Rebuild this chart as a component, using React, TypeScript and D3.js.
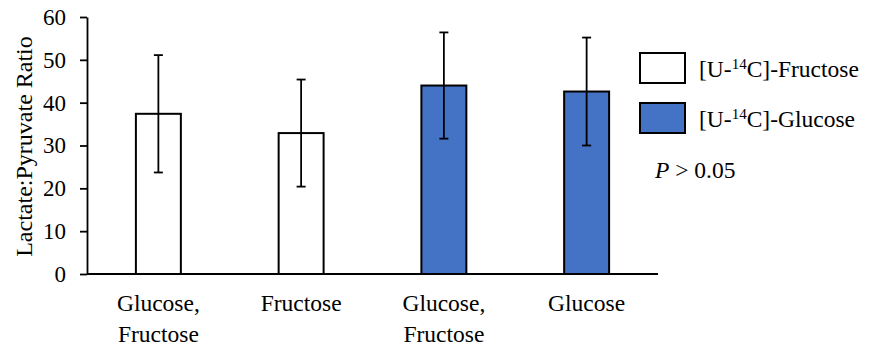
import React, { useEffect, useRef } from "react";
import * as d3 from "d3";

// chart data
const categories = ["Glucose,|Fructose", "Fructose", "Glucose,|Fructose", "Glucose"];
const means = [37.4, 32.9, 44.0, 42.6];
const errors = [13.7, 12.5, 12.4, 12.6];
const tracer = ["fructose", "fructose", "glucose", "glucose"];
const yTicks = [0, 10, 20, 30, 40, 50, 60];
const legendItems = [
  { key: "fructose", label: "-Fructose" },
  { key: "glucose", label: "-Glucose" },
];

const W = 870;
const H = 346;
const FONT = "Liberation Serif";
const BLUE = "#4472C4";

function App() {
  const ref = useRef<SVGSVGElement>(null);

  useEffect(() => {
    const svg = d3.select(ref.current);
    svg.selectAll("*").remove();

    const left = 87, right = 658, top = 17, bottom = 274;

    const x = d3.scaleBand<number>()
      .domain(d3.range(categories.length))
      .range([left, right])
      .paddingInner(0.685)
      .paddingOuter(0.3425);
    const y = d3.scaleLinear().domain([0, 60]).range([bottom, top]);

    const fill = (t: string) => (t === "glucose" ? BLUE : "#fff");

    // y axis
    const yAxis = svg.append("g")
      .attr("transform", `translate(${left},0)`)
      .call(d3.axisLeft(y).tickValues(yTicks).tickSize(7).tickPadding(14).tickSizeOuter(0));
    yAxis.attr("font-family", null);
    yAxis.select(".domain").attr("stroke", "#000").attr("stroke-width", 1.8);
    yAxis.selectAll(".tick line").attr("stroke", "#000").attr("stroke-width", 1.8);
    yAxis.selectAll("text")
      .style("font-family", FONT)
      .style("font-size", "23px")
      .attr("fill", "#000");

    // bars
    svg.append("g").selectAll("rect")
      .data(means)
      .join("rect")
      .attr("x", (d, i) => x(i)!)
      .attr("y", (d) => y(d))
      .attr("width", x.bandwidth())
      .attr("height", (d) => y(0) - y(d))
      .attr("fill", (d, i) => fill(tracer[i]))
      .attr("stroke", "#000")
      .attr("stroke-width", 2);

    // x axis baseline
    svg.append("line")
      .attr("x1", left).attr("x2", right)
      .attr("y1", y(0)).attr("y2", y(0))
      .attr("stroke", "#000")
      .attr("stroke-width", 1.8);

    // error bars
    const eb = svg.append("g").attr("stroke", "#000").attr("stroke-width", 1.8);
    means.forEach((m, i) => {
      const cx = x(i)! + x.bandwidth() / 2;
      eb.append("line").attr("x1", cx).attr("x2", cx).attr("y1", y(m + errors[i])).attr("y2", y(m - errors[i]));
      eb.append("line").attr("x1", cx - 4.5).attr("x2", cx + 4.5).attr("y1", y(m + errors[i])).attr("y2", y(m + errors[i]));
      eb.append("line").attr("x1", cx - 4.5).attr("x2", cx + 4.5).attr("y1", y(m - errors[i])).attr("y2", y(m - errors[i]));
    });

    // category labels
    categories.forEach((c, i) => {
      const cx = x(i)! + x.bandwidth() / 2;
      const t = svg.append("text")
        .attr("text-anchor", "middle")
        .style("font-family", FONT)
        .style("font-size", "23.5px")
        .attr("fill", "#000");
      c.split("|").forEach((line, j) => {
        t.append("tspan").attr("x", cx).attr("y", 311 + j * 31).text(line);
      });
    });

    // y label
    svg.append("text")
      .attr("transform", `translate(32,${(top + bottom) / 2 + 1}) rotate(-90)`)
      .attr("text-anchor", "middle")
      .style("font-family", FONT)
      .style("font-size", "24px")
      .attr("fill", "#000")
      .text("Lactate:Pyruvate Ratio");

    // legend
    legendItems.forEach((item, i) => {
      const ly = 53 + i * 50;
      svg.append("rect")
        .attr("x", 640).attr("y", ly)
        .attr("width", 45).attr("height", 30)
        .attr("fill", fill(item.key))
        .attr("stroke", "#000")
        .attr("stroke-width", 2);
      const t = svg.append("text")
        .attr("x", 699).attr("y", ly + 24)
        .style("font-family", FONT)
        .style("font-size", "23.5px")
        .attr("fill", "#000");
      t.append("tspan").text("[U-");
      t.append("tspan").style("font-size", "15px").attr("dy", -8).text("14");
      t.append("tspan").attr("dy", 8).text("C]" + item.label);
    });

    const p = svg.append("text")
      .attr("x", 655).attr("y", 178)
      .style("font-family", FONT)
      .style("font-size", "23.5px")
      .attr("fill", "#000");
    p.append("tspan").style("font-style", "italic").text("P");
    p.append("tspan").text(" > 0.05");
  }, []);

  return (
    <svg
      ref={ref}
      width={W}
      height={H}
      style={{ position: "absolute", left: 0, top: 0, background: "#fff" }}
    />
  );
}

export default App;
